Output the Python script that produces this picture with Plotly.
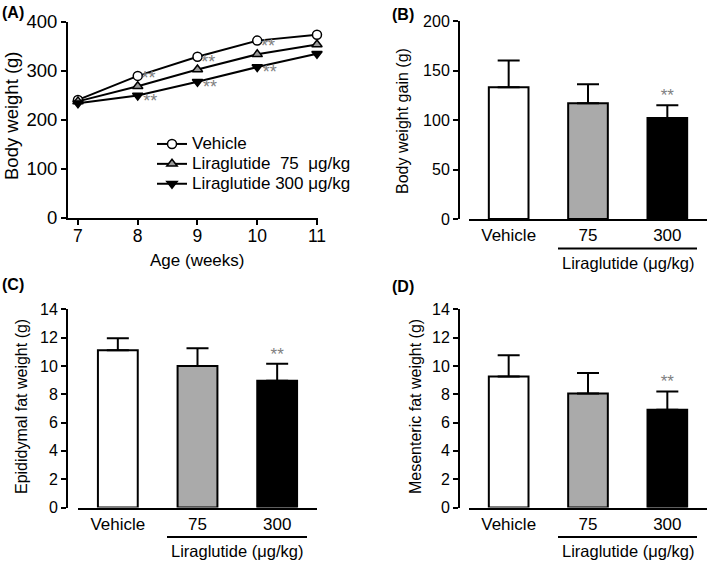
import plotly.graph_objects as go

W, H = 709, 562
FONT = "Arial, Liberation Sans, sans-serif"

# Panel A: body weight over time
weeks = [7, 8, 9, 10, 11]
bw_vehicle = [241, 290, 329, 362, 374]
bw_lira75 = [238, 269, 303, 334, 354]
bw_lira300 = [234, 250, 278, 308, 335]
sig_lira75 = ["", "**", "**", "**", "*"]
sig_lira300 = ["", "**", "**", "**", "**"]

# Panels B-D: bar charts
groups = ["Vehicle", "75", "300"]
gain_mean = [133, 117, 102]
gain_sem = [27, 19, 13]
epi_mean = [11.1, 10.0, 8.95]
epi_sem = [0.85, 1.25, 1.2]
mes_mean = [9.25, 8.05, 6.9]
mes_sem = [1.5, 1.45, 1.3]
bar_sig = ["", "", "**"]
bar_colors = ["white", "#aaaaaa", "black"]


def fx(px):
    return px / W


def fy(py):
    return 1 - py / H


def legend_name(txt):
    # bigger label text, compact row spacing (row height follows legend font)
    return '<span style="font-size:17px">%s</span>' % txt


fig = go.Figure()

# --- Panel A ---
series = [
    ("Vehicle", bw_vehicle, "circle", "white"),
    ("Liraglutide\u00a0\u00a075\u00a0\u00a0μg/kg", bw_lira75, "triangle-up", "#999999"),
    ("Liraglutide 300 μg/kg", bw_lira300, "triangle-down", "black"),
]
for name, vals, sym, col in series:
    fig.add_trace(go.Scatter(
        x=weeks, y=vals, name=legend_name(name), mode="lines+markers",
        line=dict(color="black", width=2),
        marker=dict(symbol=sym, size=9, color=col, line=dict(color="black", width=1.5)),
        cliponaxis=False, xaxis="x", yaxis="y",
    ))

# significance stars next to the treated groups
fig.add_trace(go.Scatter(
    x=[w + 0.18 for w in weeks], y=[v + 13 for v in bw_lira75], text=sig_lira75,
    mode="text", textfont=dict(size=18, color="#808080", family=FONT),
    showlegend=False, cliponaxis=False, hoverinfo="skip", xaxis="x", yaxis="y",
))
fig.add_trace(go.Scatter(
    x=[w + 0.21 for w in weeks], y=[v - 14 for v in bw_lira300], text=sig_lira300,
    mode="text", textfont=dict(size=18, color="#808080", family=FONT),
    showlegend=False, cliponaxis=False, hoverinfo="skip", xaxis="x", yaxis="y",
))

# --- Panels B-D ---
bar_panels = [
    ("2", gain_mean, gain_sem),
    ("3", epi_mean, epi_sem),
    ("4", mes_mean, mes_sem),
]
for k, mean, sem in bar_panels:
    fig.add_trace(go.Bar(
        x=groups, y=mean, width=0.5,
        marker=dict(color=bar_colors, line=dict(color="black", width=2)),
        error_y=dict(type="data", symmetric=False, array=sem, arrayminus=[0] * 3,
                     color="black", thickness=2, width=11),
        showlegend=False, xaxis="x" + k, yaxis="y" + k,
    ))
    fig.add_trace(go.Scatter(
        x=groups, y=[m + s for m, s in zip(mean, sem)], text=bar_sig,
        mode="text", textposition="top center",
        textfont=dict(size=17, color="#808080", family=FONT),
        showlegend=False, cliponaxis=False, hoverinfo="skip",
        xaxis="x" + k, yaxis="y" + k,
    ))

axis_common = dict(
    showline=True, linecolor="black", linewidth=2, showgrid=False, zeroline=False,
    ticks="outside", ticklen=5, tickwidth=2, tickcolor="black", automargin=False,
    tickfont=dict(size=16, color="black", family=FONT),
)
cat_x = dict(axis_common, type="category", range=[-0.5, 2.5], ticklen=0,
             tickcolor="rgba(0,0,0,0)", tickfont=dict(size=17, color="black", family=FONT))
big_tick = dict(size=18.5, color="black", family=FONT)

fig.update_layout(
    template="none",
    width=W, height=H,
    margin=dict(l=0, r=0, t=0, b=0, autoexpand=False),
    paper_bgcolor="white", plot_bgcolor="white",
    font=dict(family=FONT, color="black"),
    bargap=0.5,
    xaxis=dict(axis_common, domain=[fx(68), fx(318)], range=[6.833, 11.017],
               tickvals=weeks, anchor="y", tickfont=dict(big_tick, size=17.5),
               ticklabelstandoff=-4),
    yaxis=dict(axis_common, domain=[fy(218), fy(22)], range=[0, 400], dtick=100,
               anchor="x", tickfont=big_tick),
    xaxis2=dict(cat_x, domain=[fx(469), fx(707)], anchor="y2"),
    yaxis2=dict(axis_common, domain=[fy(219), fy(21)], range=[0, 200], dtick=50,
                anchor="free", position=fx(459)),
    xaxis3=dict(cat_x, domain=[fx(78), fx(317)], anchor="y3"),
    yaxis3=dict(axis_common, domain=[fy(507.5), fy(309.3)], range=[0, 14], dtick=2,
                anchor="free", position=fx(67)),
    xaxis4=dict(cat_x, domain=[fx(469), fx(707)], anchor="y4"),
    yaxis4=dict(axis_common, domain=[fy(507.5), fy(309.3)], range=[0, 14], dtick=2,
                anchor="free", position=fx(459)),
    legend=dict(x=fx(152), y=fy(129), xanchor="left", yanchor="top",
                bgcolor="rgba(0,0,0,0)", font=dict(size=13, family=FONT),
                tracegroupgap=0, itemwidth=30),
)

ann = []
# panel letters
for txt, x, y in [("(A)", 0, 12), ("(B)", 390, 15), ("(C)", 0, 284), ("(D)", 390, 286)]:
    ann.append(dict(text="<b>%s</b>" % txt, x=fx(x), y=fy(y), xref="paper", yref="paper",
                    xanchor="left", yanchor="middle", showarrow=False,
                    font=dict(size=16, family=FONT)))
# y-axis titles
for txt, x, y, size in [("Body weight (g)", 11, 116, 18.5), ("Body weight gain (g)", 402, 121, 16),
                        ("Epididymal fat weight (g)", 21, 407, 16),
                        ("Mesenteric fat weight (g)", 415, 407, 16)]:
    ann.append(dict(text=txt, x=fx(x), y=fy(y), xref="paper", yref="paper",
                    textangle=-90, xanchor="center", yanchor="middle", showarrow=False,
                    font=dict(size=size, family=FONT)))
ann.append(dict(text="Age (weeks)", x=fx(197), y=fy(260), xref="paper", yref="paper",
                xanchor="center", yanchor="middle", showarrow=False,
                font=dict(size=17, family=FONT)))

shapes = []
for x0, x1, yaxis_px in [(558, 697, 219), (167, 307, 507.5), (558, 697, 507.5)]:
    shapes.append(dict(type="line", xref="paper", yref="paper",
                       x0=fx(x0), x1=fx(x1), y0=fy(yaxis_px + 29.5), y1=fy(yaxis_px + 29.5),
                       line=dict(color="black", width=2)))
    ann.append(dict(text="Liraglutide (μg/kg)", x=fx((x0 + x1) / 2), y=fy(yaxis_px + 43.5),
                    xref="paper", yref="paper", xanchor="center", yanchor="middle",
                    showarrow=False, font=dict(size=16.5, family=FONT)))

fig.update_layout(annotations=ann, shapes=shapes)
fig.write_html("out.html", config={"displayModeBar": False},
               post_script="document.body.style.margin='0';")
